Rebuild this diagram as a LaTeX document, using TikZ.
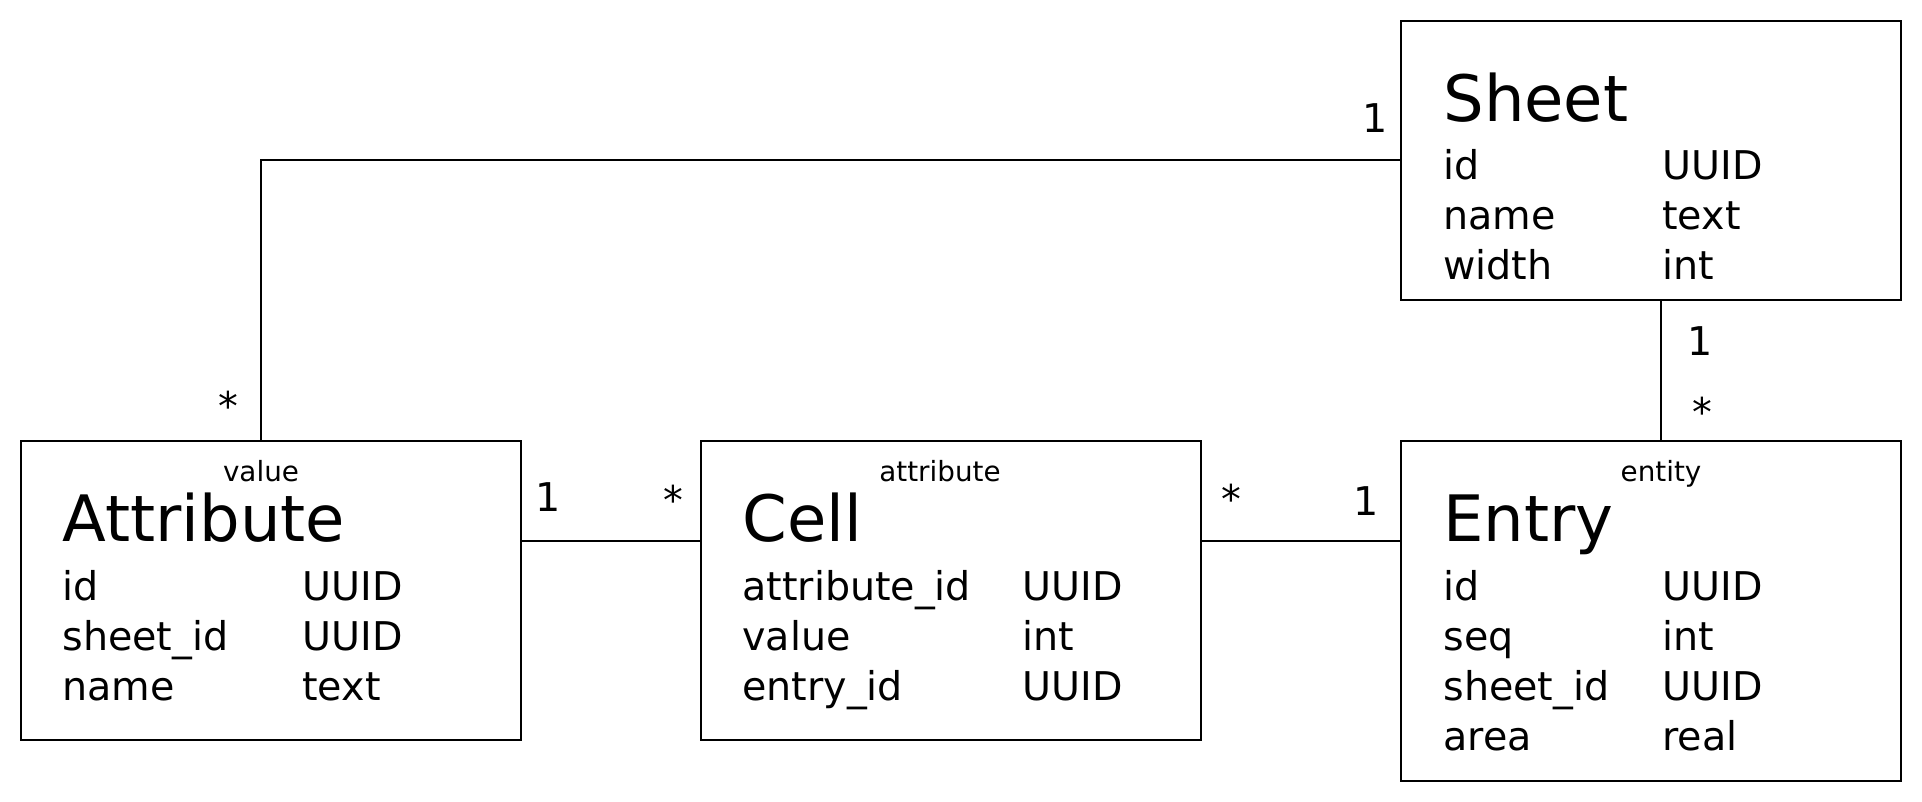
\documentclass[tikz,border=0pt]{standalone}
\usepackage{fontspec}
\setmainfont{DejaVu Sans}
\begin{document}
\begin{tikzpicture}[x=0.5pt,y=-0.5pt,
  box/.style={draw, line width=1pt, rectangle, anchor=north west, inner sep=0pt, outer sep=0pt},
  ttl/.style={anchor=base west, inner sep=0pt, font=\fontsize{32}{38}\selectfont},
  fld/.style={anchor=base west, inner sep=0pt, font=\fontsize{19.8}{24}\selectfont},
  stereo/.style={anchor=base, inner sep=0pt, font=\fontsize{13.9}{16}\selectfont},
  mult/.style={anchor=base, inner sep=0pt, font=\fontsize{19.8}{24}\selectfont},
  conn/.style={line width=1pt}]
\fill[white] (0,0) rectangle (1922,802);
\useasboundingbox (0,0) rectangle (1922,802);

% boxes
\node[box, minimum width=250pt, minimum height=139.5pt] (sheet) at (1401,21) {};
\node[box, minimum width=250pt, minimum height=149.5pt] (attr) at (21,441) {};
\node[box, minimum width=250pt, minimum height=149.5pt] (cell) at (701,441) {};
\node[box, minimum width=250pt, minimum height=170pt] (entry) at (1401,441) {};

% Sheet
\node[ttl] (sheetT) at (1443,122) {Sheet};
\node[fld] (s1a) at (1443,180) {id};
\node[fld] (s1b) at (1662,180) {UUID};
\node[fld] (s2a) at (1443,230) {name};
\node[fld] (s2b) at (1662,230) {text};
\node[fld] (s3a) at (1443,280) {width};
\node[fld] (s3b) at (1662,280) {int};

% Attribute
\node[stereo] (attrS) at (261,481) {value};
\node[ttl] (attrT) at (62,541) {Attribute};
\node[fld] (a1a) at (62,600) {id};
\node[fld] (a1b) at (302,600) {UUID};
\node[fld] (a2a) at (62,650) {sheet\_id};
\node[fld] (a2b) at (302,650) {UUID};
\node[fld] (a3a) at (62,700) {name};
\node[fld] (a3b) at (302,700) {text};

% Cell
\node[stereo] (cellS) at (940,481) {attribute};
\node[ttl] (cellT) at (742,541) {Cell};
\node[fld] (c1a) at (742,600) {attribute\_id};
\node[fld] (c1b) at (1022,600) {UUID};
\node[fld] (c2a) at (742,650) {value};
\node[fld] (c2b) at (1022,650) {int};
\node[fld] (c3a) at (742,700) {entry\_id};
\node[fld] (c3b) at (1022,700) {UUID};

% Entry
\node[stereo] (entryS) at (1661,481) {entity};
\node[ttl] (entryT) at (1443,541) {Entry};
\node[fld] (e1a) at (1443,600) {id};
\node[fld] (e1b) at (1662,600) {UUID};
\node[fld] (e2a) at (1443,650) {seq};
\node[fld] (e2b) at (1662,650) {int};
\node[fld] (e3a) at (1443,700) {sheet\_id};
\node[fld] (e3b) at (1662,700) {UUID};
\node[fld] (e4a) at (1443,750) {area};
\node[fld] (e4b) at (1662,750) {real};

% connectors
\draw[conn] ([yshift=-50pt]attr.north east) -- ([yshift=-50pt]cell.north west);
\draw[conn] ([yshift=-50pt]cell.north east) -- ([yshift=-50pt]entry.north west);
\draw[conn] ([xshift=5pt]sheet.south) -- ([xshift=5pt]entry.north);
\draw[conn] (sheet.west) -| ([xshift=-5pt]attr.north);

% multiplicities
\node[mult] (m1) at (1375.5,133) {1};
\node[mult] (m2) at (228.5,420) {*};
\node[mult] (m3) at (548,511) {1};
\node[mult] (m4) at (673,514) {*};
\node[mult] (m5) at (1231,513) {*};
\node[mult] (m6) at (1366,515) {1};
\node[mult] (m7) at (1700,355) {1};
\node[mult] (m8) at (1702,426) {*};
\end{tikzpicture}
\end{document}
